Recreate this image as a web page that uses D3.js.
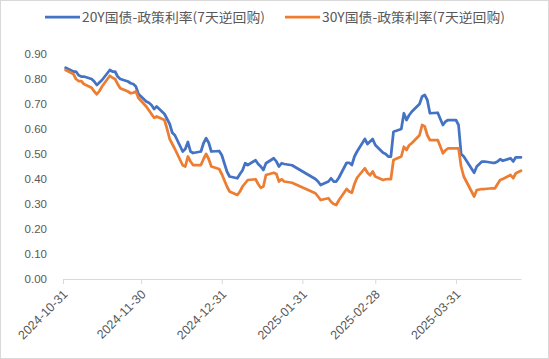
<!DOCTYPE html>
<html><head><meta charset="utf-8">
<script src="https://cdn.jsdelivr.net/npm/d3@7"></script>
<style>body{margin:0;background:#fff}svg{display:block}</style>
</head><body>
<svg id="c" width="549" height="359"></svg>
<script>
const dates = ["2024-11-01","2024-11-04","2024-11-05","2024-11-06","2024-11-07","2024-11-08","2024-11-11","2024-11-12","2024-11-13","2024-11-14","2024-11-15","2024-11-18","2024-11-19","2024-11-20","2024-11-21","2024-11-22","2024-11-25","2024-11-26","2024-11-27","2024-11-28","2024-11-29","2024-12-02","2024-12-03","2024-12-04","2024-12-05","2024-12-06","2024-12-09","2024-12-10","2024-12-11","2024-12-12","2024-12-13","2024-12-16","2024-12-17","2024-12-18","2024-12-19","2024-12-20","2024-12-23","2024-12-24","2024-12-25","2024-12-26","2024-12-27","2024-12-30","2024-12-31","2025-01-02","2025-01-03","2025-01-06","2025-01-07","2025-01-08","2025-01-09","2025-01-10","2025-01-13","2025-01-14","2025-01-15","2025-01-16","2025-01-17","2025-01-20","2025-01-21","2025-01-22","2025-01-23","2025-01-24","2025-01-27","2025-02-05","2025-02-06","2025-02-07","2025-02-10","2025-02-11","2025-02-12","2025-02-13","2025-02-14","2025-02-17","2025-02-18","2025-02-19","2025-02-20","2025-02-21","2025-02-24","2025-02-25","2025-02-26","2025-02-27","2025-02-28","2025-03-03","2025-03-04","2025-03-05","2025-03-06","2025-03-07","2025-03-10","2025-03-11","2025-03-12","2025-03-13","2025-03-14","2025-03-17","2025-03-18","2025-03-19","2025-03-20","2025-03-21","2025-03-24","2025-03-25","2025-03-26","2025-03-27","2025-03-28","2025-03-31","2025-04-01","2025-04-02","2025-04-03","2025-04-07","2025-04-08","2025-04-09","2025-04-10","2025-04-11","2025-04-14","2025-04-15","2025-04-16","2025-04-17","2025-04-18","2025-04-21","2025-04-22","2025-04-23","2025-04-24","2025-04-25"];
const spread20Y = [0.845,0.83,0.83,0.815,0.81,0.81,0.80,0.79,0.776,0.786,0.796,0.836,0.83,0.83,0.81,0.80,0.79,0.783,0.78,0.77,0.74,0.71,0.705,0.696,0.68,0.69,0.66,0.64,0.62,0.585,0.575,0.51,0.52,0.548,0.51,0.504,0.51,0.543,0.563,0.545,0.51,0.512,0.496,0.43,0.41,0.403,0.42,0.435,0.463,0.456,0.475,0.46,0.45,0.436,0.463,0.483,0.47,0.45,0.463,0.46,0.455,0.40,0.39,0.376,0.39,0.403,0.39,0.39,0.405,0.465,0.465,0.456,0.49,0.51,0.56,0.54,0.55,0.56,0.536,0.505,0.50,0.49,0.49,0.589,0.60,0.663,0.636,0.655,0.669,0.70,0.73,0.736,0.716,0.663,0.665,0.64,0.616,0.63,0.636,0.636,0.616,0.50,0.49,0.425,0.45,0.46,0.47,0.47,0.465,0.465,0.47,0.479,0.473,0.483,0.47,0.487,0.487,0.487];
const spread30Y = [0.836,0.82,0.80,0.792,0.792,0.78,0.765,0.75,0.739,0.752,0.77,0.813,0.805,0.80,0.78,0.763,0.75,0.743,0.745,0.75,0.724,0.69,0.675,0.66,0.645,0.65,0.636,0.60,0.56,0.54,0.52,0.455,0.45,0.49,0.47,0.456,0.456,0.48,0.50,0.48,0.45,0.44,0.42,0.37,0.35,0.336,0.35,0.37,0.383,0.396,0.399,0.38,0.365,0.37,0.416,0.425,0.42,0.39,0.399,0.39,0.385,0.343,0.33,0.316,0.323,0.309,0.30,0.296,0.315,0.36,0.35,0.345,0.38,0.405,0.443,0.425,0.415,0.43,0.41,0.396,0.399,0.40,0.40,0.476,0.49,0.529,0.516,0.535,0.543,0.575,0.616,0.61,0.575,0.556,0.556,0.53,0.503,0.515,0.523,0.523,0.523,0.45,0.41,0.33,0.356,0.358,0.36,0.36,0.363,0.363,0.38,0.396,0.40,0.416,0.403,0.423,0.428,0.433];
const seriesNames = ["20Y国债-政策利率(7天逆回购)","30Y国债-政策利率(7天逆回购)"];
const seriesColors = ["#4472C4","#ED7D31"];
const yTicks = [0,0.1,0.2,0.3,0.4,0.5,0.6,0.7,0.8,0.9];
const xTickLabels = ["2024-10-31","2024-11-30","2024-12-31","2025-01-31","2025-02-28","2025-03-31"];

const parse = d3.timeParse("%Y-%m-%d");
const svg = d3.select("#c");
svg.append("rect").attr("x",0.5).attr("y",0.5).attr("width",548).attr("height",358)
  .attr("fill","#fff").attr("stroke","#d9d9d9");

const x = d3.scaleTime().domain([parse("2024-10-31"), parse("2025-04-25")]).range([63,521]);
const y = d3.scaleLinear().domain([0,0.9]).range([279,54]);

// y labels
const yAxis = d3.axisLeft(y).tickValues(yTicks).tickFormat(d3.format(".2f")).tickSize(0).tickPadding(0);
const gy = svg.append("g").attr("transform","translate(47,0)").call(yAxis);
gy.select(".domain").remove();
gy.selectAll("text").attr("fill","#595959").style("font-family","'Liberation Sans', Arial, sans-serif").style("font-size","11.5px");

// x axis
const xAxis = d3.axisBottom(x).tickValues(xTickLabels.map(parse)).tickFormat(d3.timeFormat("%Y-%m-%d")).tickSize(5).tickSizeOuter(0);
const gx = svg.append("g").attr("transform","translate(0,279)").call(xAxis);
gx.select(".domain").attr("stroke","#d9d9d9");
gx.selectAll(".tick line").attr("stroke","#d9d9d9");
gx.selectAll("text").attr("fill","#595959")
  .style("font-family","'Liberation Sans', Arial, sans-serif").style("font-size","12.5px")
  .attr("text-anchor","end").attr("dy",0).attr("y",0)
  .attr("transform","translate(5,16) rotate(-45)");

const seriesData = [spread20Y, spread30Y];
const line = d3.line().x((d,i)=>x(parse(dates[i]))).y(d=>y(d));
seriesData.forEach((s,k)=>{
  svg.append("path").datum(s).attr("d",line).attr("fill","none")
    .attr("stroke",seriesColors[k]).attr("stroke-width",2.75).attr("stroke-linejoin","round").attr("stroke-linecap","round");
});

// legend
const lg = svg.append("g").style("font-family","'Noto Sans CJK SC', sans-serif").style("font-size","13px");
const legX = [45, 285];
seriesNames.forEach((n,k)=>{
  lg.append("line").attr("x1",legX[k]).attr("x2",legX[k]+35).attr("y1",17).attr("y2",17)
    .attr("stroke",seriesColors[k]).attr("stroke-width",2.75);
  lg.append("text").attr("x",legX[k]+37).attr("y",21.5).attr("fill","#595959")
    .attr("textLength",183).attr("lengthAdjust","spacingAndGlyphs").text(n);
});
</script>
</body></html>
